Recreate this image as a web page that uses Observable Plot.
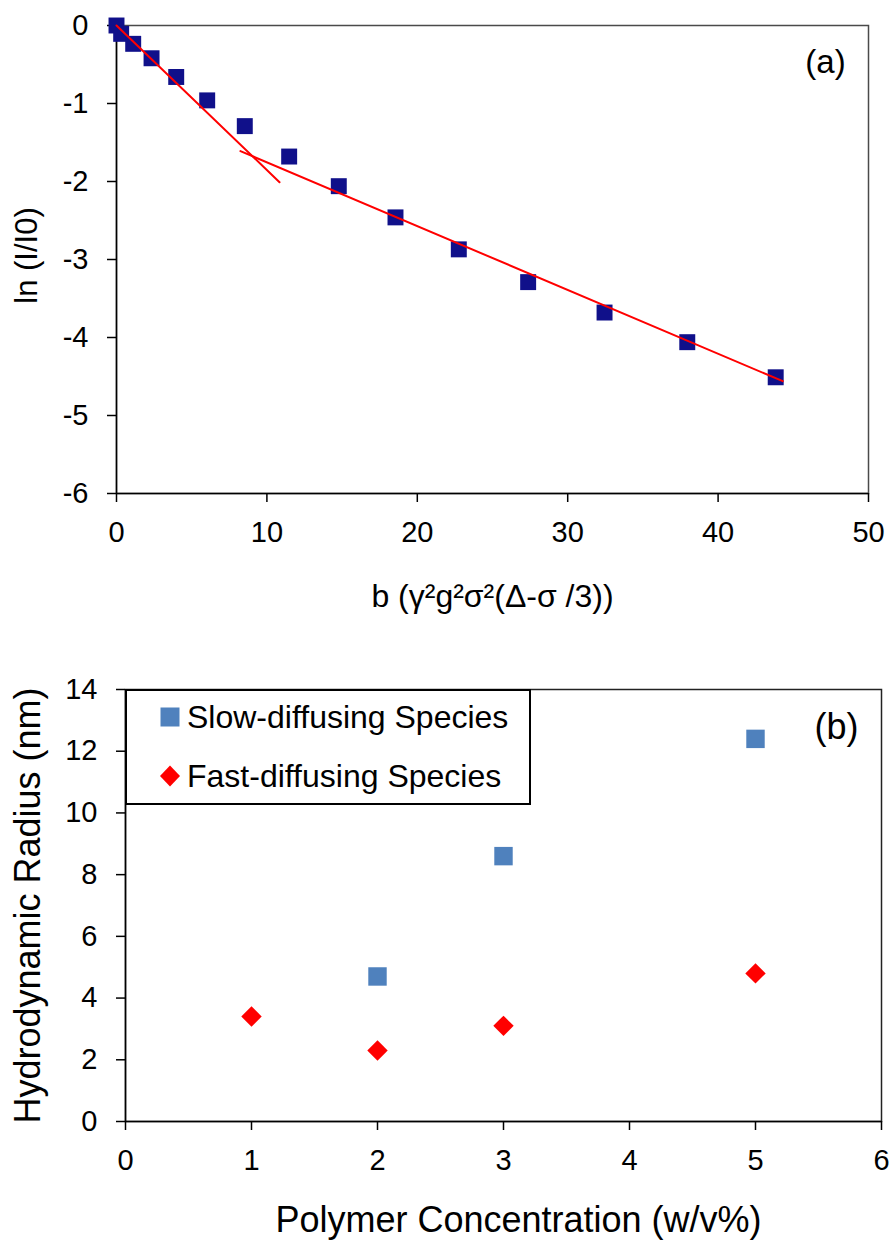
<!DOCTYPE html>
<html>
<head>
<meta charset="utf-8">
<script src="https://cdn.jsdelivr.net/npm/d3@7"></script>
<script src="https://cdn.jsdelivr.net/npm/@observablehq/plot@0.6"></script>
<style>
  html, body { margin: 0; padding: 0; background: #fff; }
  #wrap { position: relative; width: 889px; height: 1241px; font-family: 'Liberation Sans', Arial, sans-serif; }
  #wrap svg { display: block; }
  #legend { position: absolute; left: 125px; top: 689px; width: 406px; height: 116px; border: 2px solid #000; background: #fff; box-sizing: border-box; }
</style>
</head>
<body>
<div id="wrap"></div>
<script>
// ---------- Panel (a) data ----------
const bValues  = [0, 0.31, 1.11, 2.33, 3.97, 6.03, 8.53, 11.48, 14.78, 18.55, 22.76, 27.37, 32.45, 37.95, 43.83];
const lnValues = [0, -0.107, -0.235, -0.42, -0.66, -0.96, -1.29, -1.68, -2.06, -2.46, -2.87, -3.29, -3.68, -4.06, -4.51];
const fitFastB  = [0, 10.84];
const fitFastLn = [0, -2.01];
const fitSlowB  = [8.24, 44.3];
const fitSlowLn = [-1.61, -4.56];
const xTicksA = [0, 10, 20, 30, 40, 50];
const yTicksA = [0, -1, -2, -3, -4, -5, -6];
const xTitleA = "b (γ²g²σ²(Δ-σ /3))";
const yTitleA = "ln (I/I0)";
const panelA = "(a)";

// ---------- Panel (b) data ----------
const seriesNames = ["Slow-diffusing Species", "Fast-diffusing Species"];
const slowConc   = [2, 3, 5];
const slowRadius = [4.7, 8.6, 12.4];
const fastConc   = [1, 2, 3, 5];
const fastRadius = [3.4, 2.3, 3.1, 4.8];
const xTicksB = [0, 1, 2, 3, 4, 5, 6];
const yTicksB = [0, 2, 4, 6, 8, 10, 12, 14];
const xTitleB = "Polymer Concentration (w/v%)";
const yTitleB = "Hydrodynamic Radius (nm)";
const panelB = "(b)";

const FONT = "'Liberation Sans', Arial, sans-serif";
const fmt = d => `${d}`;

const topPoints = bValues.map((b, i) => ({b, ln: lnValues[i]}));
const fitFast = fitFastB.map((b, i) => ({b, ln: fitFastLn[i]}));
const fitSlow = fitSlowB.map((b, i) => ({b, ln: fitSlowLn[i]}));

const chartA = Plot.plot({
  width: 889, height: 620,
  marginLeft: 116, marginRight: 21, marginTop: 25, marginBottom: 127,
  style: {fontFamily: FONT, color: "black", background: "white", overflow: "visible"},
  x: {domain: [0, 50]},
  y: {domain: [-6, 0]},
  marks: [
    Plot.frame({stroke: "#4a4a4a", strokeWidth: 1.5}),
    Plot.ruleX([0], {stroke: "black", strokeWidth: 1.5}),
    Plot.ruleY([-6], {stroke: "black", strokeWidth: 1.5}),
    Plot.axisX({ticks: xTicksA, tickSize: 9, tickPadding: 19, fontSize: 29, tickFormat: fmt, label: null, strokeWidth: 1.5}),
    Plot.axisY({ticks: yTicksA, tickSize: 9, tickPadding: 19, fontSize: 29, tickFormat: fmt, label: null, strokeWidth: 1.5}),
    Plot.dot(topPoints, {x: "b", y: "ln", symbol: "square", r: 9, fill: "#10108a", stroke: "none"}),
    Plot.line(fitFast, {x: "b", y: "ln", stroke: "#ff0000", strokeWidth: 2}),
    Plot.line(fitSlow, {x: "b", y: "ln", stroke: "#ff0000", strokeWidth: 2}),
    Plot.text([xTitleA], {text: d => d, frameAnchor: "bottom", dy: 103, fontSize: 32, lineAnchor: "middle"}),
    Plot.text([yTitleA], {text: d => d, frameAnchor: "left", rotate: -90, dx: -89, dy: -4, fontSize: 31, textAnchor: "middle", lineAnchor: "middle"}),
    Plot.text([panelA], {text: d => d, frameAnchor: "top-right", dx: -43, dy: 37, fontSize: 33, textAnchor: "middle", lineAnchor: "middle"})
  ]
});

const slowPts = slowConc.map((c, i) => ({c, r: slowRadius[i]}));
const fastPts = fastConc.map((c, i) => ({c, r: fastRadius[i]}));

const chartB = Plot.plot({
  width: 889, height: 621,
  marginLeft: 125, marginRight: 8, marginTop: 69, marginBottom: 120,
  style: {fontFamily: FONT, color: "black", background: "white", overflow: "visible"},
  x: {domain: [0, 6]},
  y: {domain: [0, 14]},
  marks: [
    Plot.frame({stroke: "#222", strokeWidth: 1.5}),
    Plot.ruleX([0], {stroke: "black", strokeWidth: 1.5}),
    Plot.ruleY([0], {stroke: "black", strokeWidth: 1.5}),
    Plot.axisX({ticks: xTicksB, tickSize: 9, tickPadding: 19, fontSize: 29, tickFormat: fmt, label: null, strokeWidth: 1.5}),
    Plot.axisY({ticks: yTicksB, tickSize: 9, tickPadding: 19, fontSize: 29, tickFormat: fmt, label: null, strokeWidth: 1.5}),
    Plot.dot(slowPts, {x: "c", y: "r", symbol: "square", r: 10.4, fill: "#4f81bd", stroke: "none"}),
    Plot.dot(fastPts, {x: "c", y: "r", symbol: "diamond2", r: 9.2, fill: "#ff0000", stroke: "none"}),
    Plot.text([xTitleB], {text: d => d, frameAnchor: "bottom", dx: 15, dy: 99, fontSize: 36, lineAnchor: "middle"}),
    Plot.text([yTitleB], {text: d => d, frameAnchor: "left", rotate: -90, dx: -97, fontSize: 36, textAnchor: "middle", lineAnchor: "middle"}),
    Plot.text([panelB], {text: d => d, frameAnchor: "top-right", dx: -45, dy: 38, fontSize: 36, textAnchor: "middle", lineAnchor: "middle"})
  ]
});

const wrap = document.getElementById("wrap");
wrap.appendChild(chartA);
wrap.appendChild(chartB);

// Legend (inside panel b)
const legend = d3.select(wrap).append("div").attr("id", "legend");
const lsvg = legend.append("svg").attr("width", 402).attr("height", 112)
  .style("position", "absolute").style("left", "0").style("top", "0");
const legendItems = [
  {name: seriesNames[0], color: "#4f81bd", shape: "square"},
  {name: seriesNames[1], color: "#ff0000", shape: "diamond"}
];
legendItems.forEach((it, i) => {
  const cy = 26 + i * 59;
  if (it.shape === "square") {
    lsvg.append("rect").attr("x", 43 - 9.5).attr("y", cy - 9.5).attr("width", 19).attr("height", 19).attr("fill", it.color);
  } else {
    lsvg.append("path").attr("d", `M43,${cy - 10.5}L53,${cy}L43,${cy + 10.5}L33,${cy}Z`).attr("fill", it.color);
  }
  lsvg.append("text").attr("x", 60).attr("y", cy).attr("dy", "0.35em")
    .attr("font-family", FONT).attr("font-size", 32).attr("fill", "#000").text(it.name);
});
</script>
</body>
</html>
